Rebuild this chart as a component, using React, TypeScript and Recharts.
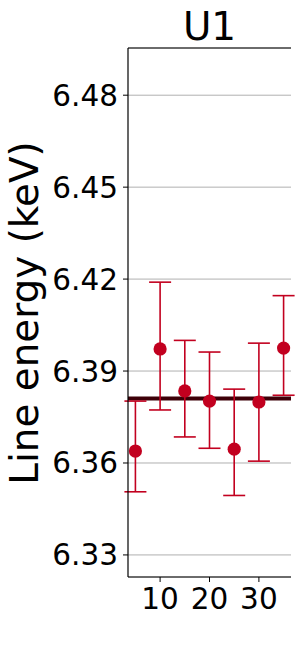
import {
  ComposedChart,
  Scatter,
  ErrorBar,
  XAxis,
  YAxis,
  CartesianGrid,
  ReferenceLine,
} from "recharts";

const times = [5, 10, 15, 20, 25, 30, 35];
const energies = [6.3639, 6.3972, 6.3835, 6.3802, 6.3645, 6.3799, 6.3975];
const errLow = [0.0133, 0.0199, 0.015, 0.0154, 0.0151, 0.0193, 0.0154];
const errHigh = [0.0163, 0.0218, 0.0165, 0.016, 0.0196, 0.0192, 0.0171];
const meanEnergy = 6.381;

const yTicks = [6.33, 6.36, 6.39, 6.42, 6.45, 6.48];
const xTicks = [10, 20, 30];

const title = "U1";
const yLabel = "Line energy (keV)";

const FONT = "DejaVu Sans";
const POINT = "#c2001f";
const MEAN = "#3d0008";

const data = times.map((t, i) => ({
  t,
  e: energies[i],
  err: [errLow[i], errHigh[i]],
}));

// eslint-disable-next-line @typescript-eslint/no-explicit-any
function Dot(props: any) {
  const { cx, cy } = props;
  if (cx == null || cy == null) return null;
  return <circle cx={cx} cy={cy} r={6.6} fill={POINT} />;
}

export default function App() {
  return (
    <div style={{ position: "absolute", left: 0, top: 0 }}>
      <ComposedChart
        width={301}
        height={668}
        data={data}
        margin={{ top: 47, right: 10, bottom: 0, left: 0 }}
      >
        <CartesianGrid
          vertical={false}
          stroke="#b0b0b0"
          strokeWidth={1}
          yAxisId="left"
          xAxisId="bottom"
        />
        <XAxis
          xAxisId="bottom"
          dataKey="t"
          type="number"
          domain={[3.5, 36.5]}
          ticks={xTicks}
          allowDataOverflow
          height={91}
          tickSize={5}
          tickMargin={6}
          axisLine={{ stroke: "#000", strokeWidth: 1.2 }}
          tickLine={{ stroke: "#000" }}
          tick={{ fontSize: 29.5, fill: "#000", fontFamily: FONT }}
        />
        <XAxis
          xAxisId="top"
          dataKey="t"
          orientation="top"
          type="number"
          domain={[3.5, 36.5]}
          allowDataOverflow
          height={1}
          tick={false}
          tickLine={false}
          axisLine={{ stroke: "#000", strokeWidth: 1.2 }}
        />
        <YAxis
          yAxisId="left"
          type="number"
          domain={[6.3228, 6.4954]}
          ticks={yTicks}
          allowDataOverflow
          width={128}
          tickSize={5}
          tickMargin={5}
          tickFormatter={(v: number) => v.toFixed(2)}
          axisLine={{ stroke: "#000", strokeWidth: 1.2 }}
          tickLine={{ stroke: "#000" }}
          tick={{ fontSize: 29.5, fill: "#000", fontFamily: FONT }}
        />
        <YAxis
          yAxisId="right"
          orientation="right"
          type="number"
          domain={[6.3228, 6.4954]}
          width={0}
          tick={false}
          tickLine={false}
          axisLine={{ stroke: "#000", strokeWidth: 1.2 }}
        />

        {/* mean energy line, under the points */}
        <ReferenceLine
          xAxisId="bottom"
          yAxisId="left"
          y={meanEnergy}
          stroke={MEAN}
          strokeWidth={4}
        />

        <Scatter
          xAxisId="bottom"
          yAxisId="left"
          dataKey="e"
          fill={POINT}
          shape={<Dot />}
          isAnimationActive={false}
        >
          <ErrorBar
            dataKey="err"
            direction="y"
            width={11}
            stroke={POINT}
            strokeWidth={1.6}
            isAnimationActive={false}
          />
        </Scatter>

        <text
          x={209.5}
          y={40}
          textAnchor="middle"
          fontSize={38.9}
          fontFamily={FONT}
          fill="#000"
        >
          {title}
        </text>
        <text
          x={38}
          y={313}
          transform="rotate(-90, 38, 313)"
          textAnchor="middle"
          fontSize={38.9}
          fontFamily={FONT}
          fill="#000"
        >
          {yLabel}
        </text>
      </ComposedChart>
    </div>
  );
}
